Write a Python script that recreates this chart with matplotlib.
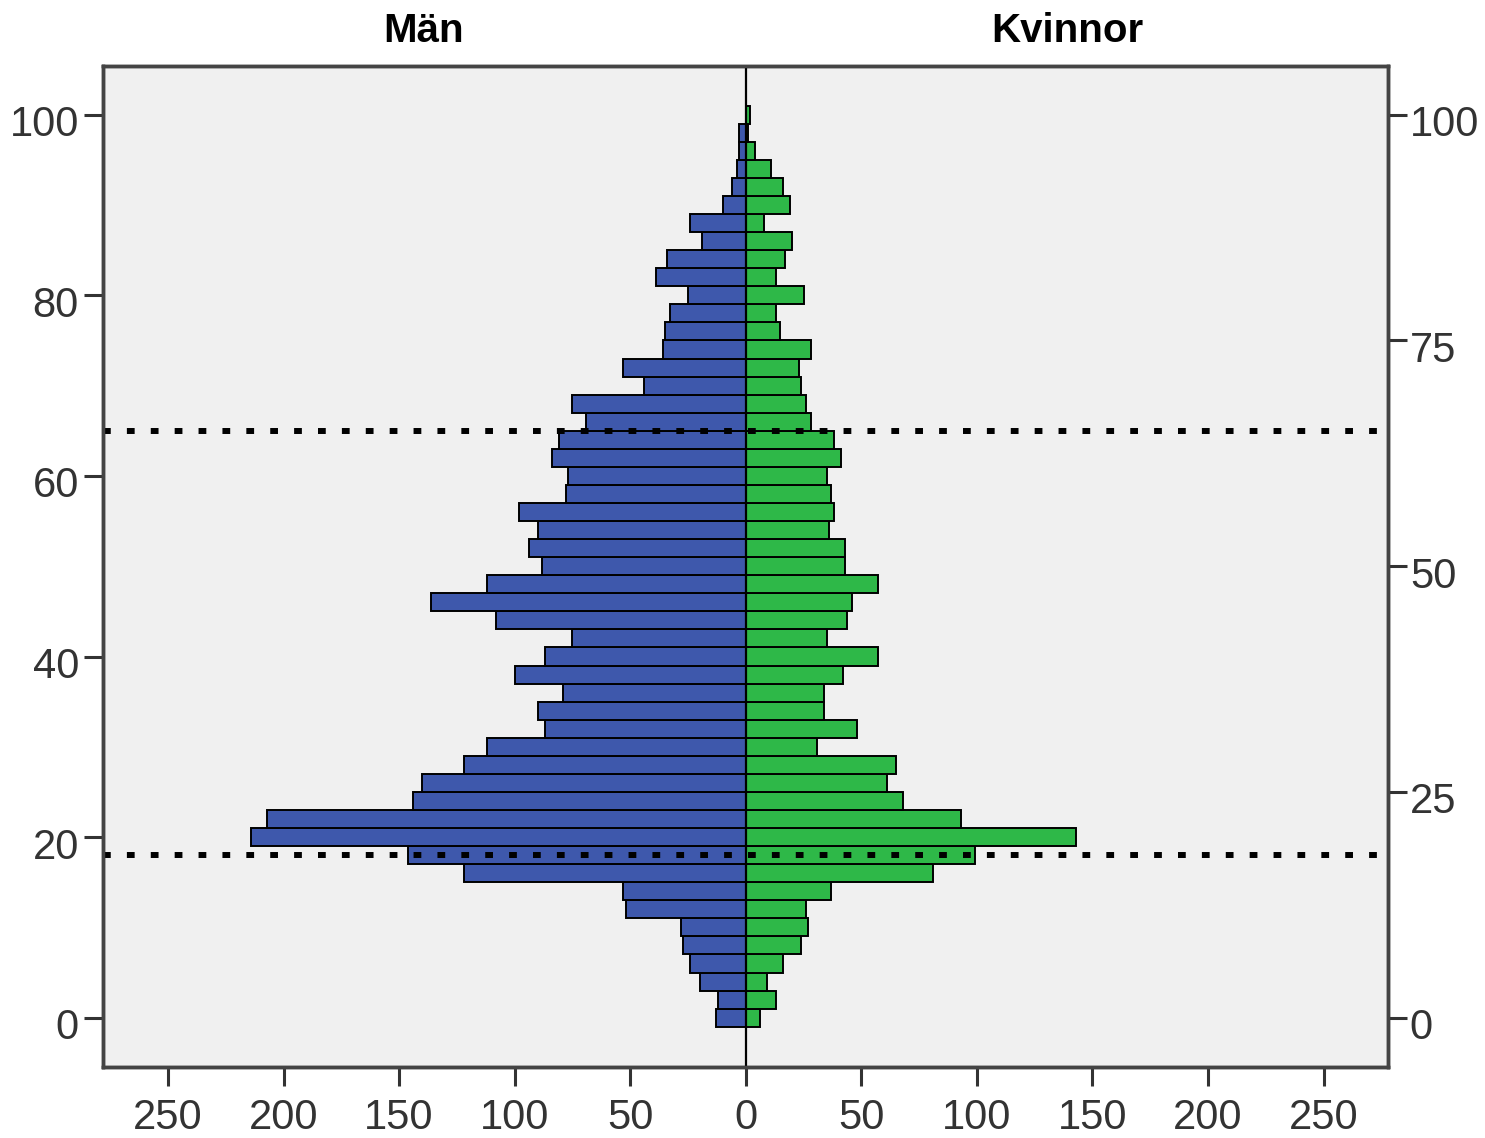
import matplotlib
matplotlib.use("Agg")
import matplotlib.pyplot as plt
import matplotlib.transforms as mtransforms
import numpy as np

plt.rcParams['font.family'] = ['Liberation Sans', 'DejaVu Sans']

# ---- data ----
ages = list(range(0, 101, 2))
men = [13, 12, 20, 24, 27, 28, 52, 53, 122, 146, 214, 207, 144, 140, 122, 112,
       87, 90, 79, 100, 87, 75, 108, 136, 112, 88, 94, 90, 98, 78, 77, 84, 81,
       69, 75, 44, 53, 36, 35, 33, 25, 39, 34, 19, 24, 10, 6, 4, 3, 3, 0]
women = [6, 13, 9, 16, 24, 27, 26, 37, 81, 99, 143, 93, 68, 61, 65, 31,
         48, 34, 34, 42, 57, 35, 44, 46, 57, 43, 43, 36, 38, 37, 35, 41, 38,
         28, 26, 24, 23, 28, 15, 13, 25, 13, 17, 20, 8, 19, 16, 11, 4, 1, 2]
ref_lines = [65, 18]
x_ticks = [-250, -200, -150, -100, -50, 0, 50, 100, 150, 200, 250]
left_yticks = [0, 20, 40, 60, 80, 100]
right_yticks = [0, 25, 50, 75, 100]
titles = ["Män", "Kvinnor"]

blue = "#3E58AC"
green = "#2EB848"
bg = "#F0F0F0"
frame_c = "#444444"
text_c = "#333333"

fig = plt.figure(figsize=(14.85, 11.38), dpi=100)
ax = fig.add_axes([0.06956, 0.06239, 0.86532, 0.87988])
ax.set_facecolor(bg)

ages_a = np.array(ages)
ax.barh(ages_a, -np.array(men), height=2, color=blue, edgecolor="black",
        linewidth=1.4, zorder=2)
ax.barh(ages_a, np.array(women), height=2, color=green, edgecolor="black",
        linewidth=1.4, zorder=2)
ax.axvline(0, color="black", lw=1.6, zorder=4)
for yv in ref_lines:
    ax.axhline(yv, color="black", lw=4.3, linestyle=(0, (1.3, 2.7)),
               dash_capstyle="butt", zorder=5)

ax.set_xlim(-278, 278)
ax.set_ylim(-5.46, 105.43)
ax.set_xticks(x_ticks)
ax.set_xticklabels([str(abs(v)) for v in x_ticks])
ax.set_yticks(left_yticks)

ax2 = ax.twinx()
ax2.set_ylim(ax.get_ylim())
ax2.set_yticks(right_yticks)

for a in (ax, ax2):
    for sp in a.spines.values():
        sp.set_color(frame_c)
        sp.set_linewidth(2.5)
    a.tick_params(axis="both", direction="out", length=13.5, width=2.2,
                  color="#333333", labelsize=30, labelcolor=text_c)
ax.tick_params(axis="y", pad=4)
ax.tick_params(axis="x", pad=9)
ax2.tick_params(axis="y", pad=2)

off = mtransforms.ScaledTranslation(0, -6 / 100, fig.dpi_scale_trans)
for lab in ax.get_yticklabels() + ax2.get_yticklabels():
    lab.set_transform(lab.get_transform() + off)

fig.text(424 / 1485, 1 - 31 / 1138, titles[0], ha="center", va="center",
         fontsize=29, fontweight="bold", color="black")
fig.text(1067 / 1485, 1 - 31 / 1138, titles[1], ha="center", va="center",
         fontsize=29, fontweight="bold", color="black")

fig.savefig("out.png", dpi=100, facecolor="white")
